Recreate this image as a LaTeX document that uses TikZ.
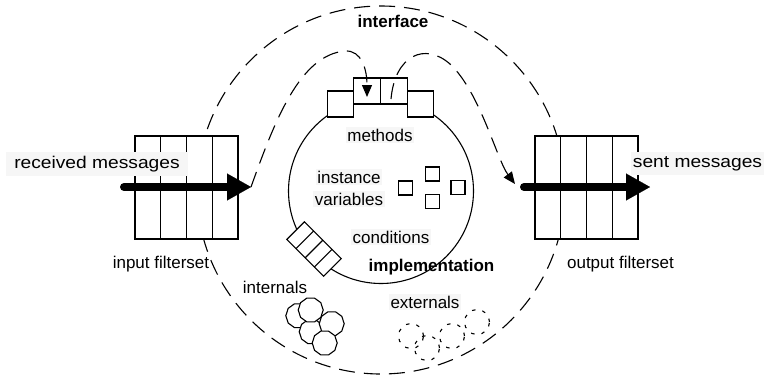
\documentclass[tikz,border=0pt]{standalone}
\usepackage{fontspec}
\setmainfont{Liberation Sans}
\newfontfamily\widesans[FakeStretch=1.13]{Liberation Sans}
\usetikzlibrary{arrows.meta,calc,shapes.geometric}
\definecolor{labelbg}{RGB}{246,246,246}

\begin{document}
\begin{tikzpicture}[x=1pt, y=-1pt,
  every node/.style={font=\fontsize{17}{20}\selectfont},
  box/.style={draw, line width=1.1pt, fill=white, inner sep=0pt, outer sep=0pt},
  lbl/.style={inner sep=1.5pt, anchor=base},
  bglbl/.style={lbl, fill=labelbg},
  dashline/.style={line width=1.1pt, dash pattern=on 16pt off 9pt},
  msgarrow/.style={dashline, -{Triangle[length=12pt,width=10pt]}},
  thickarrow/.style={line width=8pt, line cap=round, -{Triangle[length=24pt,width=27pt,line width=0.1pt]}},
  blob/.style={regular polygon, regular polygon sides=10, draw, fill=white, line width=1.1pt, minimum size=25pt, inner sep=0pt},
  ghost/.style={circle, draw, line width=1.1pt, dash pattern=on 3.5pt off 7pt, minimum size=25pt, inner sep=0pt}
]
\useasboundingbox (0,0) rectangle (765,376);

% interface boundary and implementation body
\node[circle, draw, dashline, minimum size=368pt, inner sep=0pt] (iface) at (381,190) {};
\node[circle, draw, line width=1.1pt, minimum size=185pt, inner sep=0pt] (impl) at (381,191) {};

% methods on top of the implementation
\node[box, minimum width=26pt, minimum height=26pt] (m1) at (340.5,104) {};
\node[box, minimum width=27pt, minimum height=26pt] (m2) at (367,91) {};
\node[box, minimum width=27pt, minimum height=26pt] (m3) at (394,91) {};
\node[box, minimum width=26pt, minimum height=26pt] (m4) at (420.5,104) {};

% condition queue on the rim
\node[box, rotate=-45, minimum width=52pt, minimum height=25pt] (cq) at (314,249) {};
\foreach \k in {1,2,3}
  \draw[line width=1.1pt] ($(cq.north west)!\k/4!(cq.north east)$) -- ($(cq.south west)!\k/4!(cq.south east)$);

% instance variables
\foreach \n/\p in {v1/{(405.5,188)}, v2/{(432.5,174)}, v3/{(432.5,201.5)}, v4/{(458,187.5)}}
  \node[box, minimum width=14pt, minimum height=14pt] (\n) at \p {};

% filtersets
\node[box, minimum width=103pt, minimum height=103pt] (inbox) at (186.5,187.5) {};
\node[box, minimum width=103pt, minimum height=103pt] (outbox) at (586.5,187.5) {};
\foreach \b in {inbox,outbox}
  \foreach \k in {1,2,3}
    \draw[line width=1.1pt] ($(\b.north west)!\k/4!(\b.north east)$) -- ($(\b.south west)!\k/4!(\b.south east)$);

% internals
\node[blob] (i1) at (298.3,315.7) {};
\node[blob] (i4) at (311.7,331.7) {};
\node[blob] (i2) at (310.7,310) {};
\node[blob] (i3) at (331.7,323.7) {};
\node[blob] (i5) at (324.7,343) {};

% externals
\node[ghost] (e1) at (411,336) {};
\node[ghost] (e2) at (427,348) {};
\node[ghost] (e3) at (452,336) {};
\node[ghost] (e4) at (477,322) {};

% labels
\node[lbl, font=\fontsize{17}{20}\selectfont\bfseries] (tiface) at (393,27) {interface};
\node[bglbl] (tmeth) at (380,141) {methods};
\node[bglbl] (tinst) at (349,183) {instance};
\node[bglbl] (tvar) at (349,205) {variables};
\node[bglbl] (tcond) at (391,243) {conditions};
\node[lbl, font=\fontsize{17}{20}\selectfont\bfseries] (timpl) at (431.5,271) {implementation};
\node[lbl] (tin) at (161,268) {input filterset};
\node[lbl] (tout) at (620.5,268) {output filterset};
\node[lbl] (tint) at (275,293) {internals};
\node[bglbl] (text) at (425,308) {externals};
\node[bglbl, inner xsep=8pt, inner ysep=4pt, font=\fontsize{17}{20}\widesans] (trecv) at (97,168) {received messages};
\node[bglbl, inner xsep=2pt, inner ysep=4pt, font=\fontsize{17}{20}\widesans] (tsent) at (697.5,167) {sent messages};

% message flow
\coordinate (rin) at (124,187);
\coordinate (rtip) at (251,187);
\coordinate (sin) at (524,187);
\coordinate (stip) at (650,187);
\coordinate (sarr) at (515,184);
\draw[thickarrow] (rin) -- (rtip);
\draw[thickarrow] (sin) -- (stip);

\coordinate (apex1) at (345,51);
\coordinate (mtip) at (367,97);
\coordinate (mout) at (391,99);
\coordinate (apex2) at (450,64);
\draw[msgarrow] (rtip) .. controls (275,120) and (300,55) .. (apex1)
  .. controls (362,50) and (367,70) .. (mtip);
\draw[msgarrow] (mout) .. controls (395,55) and (425,42) .. (apex2)
  .. controls (480,92) and (497,160) .. (sarr);
\end{tikzpicture}
\end{document}
